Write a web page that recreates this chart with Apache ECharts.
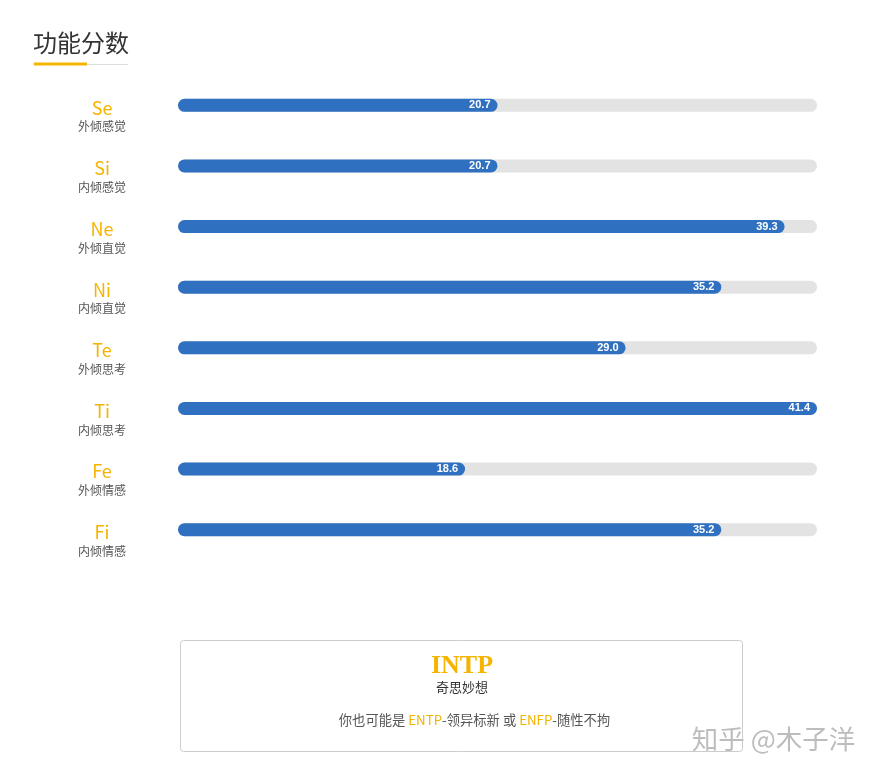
<!DOCTYPE html>
<html>
<head>
<meta charset="utf-8">
<script src="https://cdn.jsdelivr.net/npm/echarts@6/dist/echarts.min.js"></script>
<style>
html,body{margin:0;padding:0;background:#fff;}
#chart{width:875px;height:773px;}
</style>
</head>
<body>
<div id="chart"></div>
<script>
var codes = ['Se', 'Si', 'Ne', 'Ni', 'Te', 'Ti', 'Fe', 'Fi'];
var names = ['外倾感觉', '内倾感觉', '外倾直觉', '内倾直觉', '外倾思考', '内倾思考', '外倾情感', '内倾情感'];
var scores = [20.7, 20.7, 39.3, 35.2, 29.0, 41.4, 18.6, 35.2];
var resultType = 'INTP';
var resultName = '奇思妙想';
var altTypes = ['ENTP', 'ENFP'];
var altNames = ['领异标新', '随性不拘'];

var YELLOW = '#f5b400';
var CJK = '"Noto Sans CJK SC", "Noto Sans", sans-serif';
var maxScore = Math.max.apply(null, scores);

var chart = echarts.init(document.getElementById('chart'));
chart.setOption({
  backgroundColor: '#fff',
  animation: false,
  title: {
    text: '功能分数',
    left: 33,
    top: 31,
    padding: 0,
    textStyle: { color: '#333', fontSize: 24, fontWeight: 'normal', fontFamily: CJK }
  },
  grid: { left: 178, right: 58, top: 75, bottom: 213, containLabel: false },
  xAxis: { type: 'value', min: 0, max: maxScore, show: false },
  yAxis: {
    type: 'category',
    inverse: true,
    data: codes,
    axisLine: { show: false },
    axisTick: { show: false },
    splitLine: { show: false },
    axisLabel: {
      margin: 76,
      align: 'center',
      padding: [23, 0, 0, 0],
      formatter: function (v, i) { return '{code|' + v + '}\n{sub|' + names[i] + '}'; },
      rich: {
        code: { fontSize: 18, lineHeight: 20, color: YELLOW, fontFamily: CJK, align: 'center' },
        sub: { fontSize: 12, lineHeight: 18, color: '#555', fontFamily: CJK, align: 'center' }
      }
    }
  },
  series: [{
    type: 'bar',
    data: scores,
    barWidth: 13,
    showBackground: true,
    backgroundStyle: { color: '#e3e3e3', borderRadius: 7 },
    itemStyle: { color: '#3070c0', borderRadius: 7 },
    label: {
      show: true,
      position: 'insideRight',
      distance: 7,
      formatter: function (p) { return p.value.toFixed(1); },
      color: '#fff',
      fontSize: 11,
      fontWeight: 'bold',
      fontFamily: '"Liberation Sans", Arial, sans-serif'
    }
  }],
  graphic: [
    { type: 'line', shape: { x1: 34, y1: 64.5, x2: 128, y2: 64.5 }, style: { stroke: '#ddd', lineWidth: 1 } },
    { type: 'rect', shape: { x: 34, y: 62.5, width: 53, height: 3 }, style: { fill: YELLOW } },
    { type: 'rect', shape: { x: 180.5, y: 640.5, width: 562, height: 111, r: 3 }, style: { fill: '#fff', stroke: '#ccc', lineWidth: 1 } },
    { type: 'text', x: 462, y: 666, style: { text: resultType, fill: YELLOW, font: 'bold 26px "Liberation Serif", "DejaVu Serif", serif', textAlign: 'center', textVerticalAlign: 'middle' } },
    { type: 'text', x: 462, y: 687, style: { text: resultName, fill: '#333', font: '13px ' + CJK, textAlign: 'center', textVerticalAlign: 'middle' } },
    { type: 'text', x: 474.5, y: 720, style: {
        text: '{n|你也可能是 }{y|' + altTypes[0] + '}{n|-' + altNames[0] + ' 或 }{y|' + altTypes[1] + '}{n|-' + altNames[1] + '}',
        textAlign: 'center', textVerticalAlign: 'middle',
        rich: {
          n: { fontSize: 13.3, fill: '#555', fontFamily: CJK },
          y: { fontSize: 13.3, fill: YELLOW, fontFamily: CJK }
        }
      } },
    { type: 'text', x: 773.5, y: 739, style: { text: '知乎 @木子洋', fill: '#bdbdbd', font: '26.5px ' + CJK, textAlign: 'center', textVerticalAlign: 'middle' } }
  ]
});
</script>
</body>
</html>
